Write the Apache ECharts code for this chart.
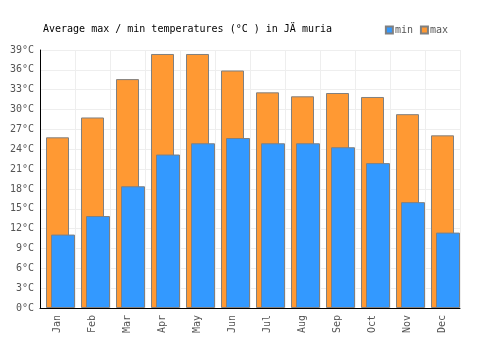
<!DOCTYPE html>
<html><head><meta charset="utf-8">
<script src="https://cdn.jsdelivr.net/npm/echarts@6/dist/echarts.min.js"></script>
<style>html,body{margin:0;padding:0;background:#fff}#c{width:500px;height:350px}</style>
</head><body><div id="c"></div>
<script>
const months = ['Jan','Feb','Mar','Apr','May','Jun','Jul','Aug','Sep','Oct','Nov','Dec'];
const minTemps = [11.1, 13.9, 18.4, 23.2, 24.9, 25.7, 24.9, 24.9, 24.3, 21.9, 16.0, 11.4];
const maxTemps = [25.8, 28.8, 34.6, 38.4, 38.4, 35.9, 32.6, 32.0, 32.5, 31.9, 29.3, 26.1];
const titleText = 'Average max / min temperatures (\u00b0C ) in J\u00c4 muria';
const FONT = '"DejaVu Sans Mono", monospace';
const chart = echarts.init(document.getElementById('c'));
chart.setOption({
  animation: false,
  backgroundColor: '#fff',
  title: { text: titleText, left: 38, top: 19, textStyle: { fontFamily: FONT, fontSize: 10, fontWeight: 'normal', color: '#000' } },
  legend: { data: ['min', 'max'], icon: 'rect', right: 47, top: 20, itemWidth: 7, itemHeight: 7, itemGap: 7,
    textStyle: { fontFamily: FONT, fontSize: 10, color: '#555', padding: [0,0,0,-3] } },
  grid: [
    { left: 40, right: 40, top: 50, bottom: 42 },
    { left: 45.5, right: 34.5, top: 50, bottom: 42 }
  ],
  xAxis: [
    { type: 'category', gridIndex: 0, data: months,
      axisLine: { show: false }, axisTick: { show: false },
      splitLine: { show: true, interval: 0, lineStyle: { color: '#eeeeee', width: 1 } },
      axisLabel: { rotate: 90, interval: 0, margin: 7, fontFamily: FONT, fontSize: 10, color: '#555' } },
    { type: 'category', gridIndex: 1, data: months, show: false },
    { type: 'category', gridIndex: 0, data: months, position: 'bottom', z: 10,
      axisLine: { show: true, lineStyle: { color: '#000', width: 1 } }, axisTick: { show: false },
      axisLabel: { show: false }, splitLine: { show: false } }
  ],
  yAxis: [
    { type: 'value', gridIndex: 0, min: 0, max: 39, interval: 3,
      axisLine: { show: true, lineStyle: { color: '#000', width: 1 } }, axisTick: { show: false },
      splitLine: { show: true, lineStyle: { color: '#eeeeee', width: 1 } },
      axisLabel: { formatter: '{value}\u00b0C', margin: 6, fontFamily: FONT, fontSize: 10, color: '#555' } },
    { type: 'value', gridIndex: 1, min: 0, max: 39, interval: 3, show: false }
  ],
  series: [
    { name: 'min', type: 'bar', xAxisIndex: 1, yAxisIndex: 1, data: minTemps, barWidth: 24, z: 3,
      itemStyle: { color: '#3399ff', borderColor: '#808080', borderWidth: 1 } },
    { name: 'max', type: 'bar', xAxisIndex: 0, yAxisIndex: 0, data: maxTemps, barWidth: 23, z: 2,
      itemStyle: { color: '#ff9933', borderColor: '#808080', borderWidth: 1 } }
  ]
});
</script></body></html>
